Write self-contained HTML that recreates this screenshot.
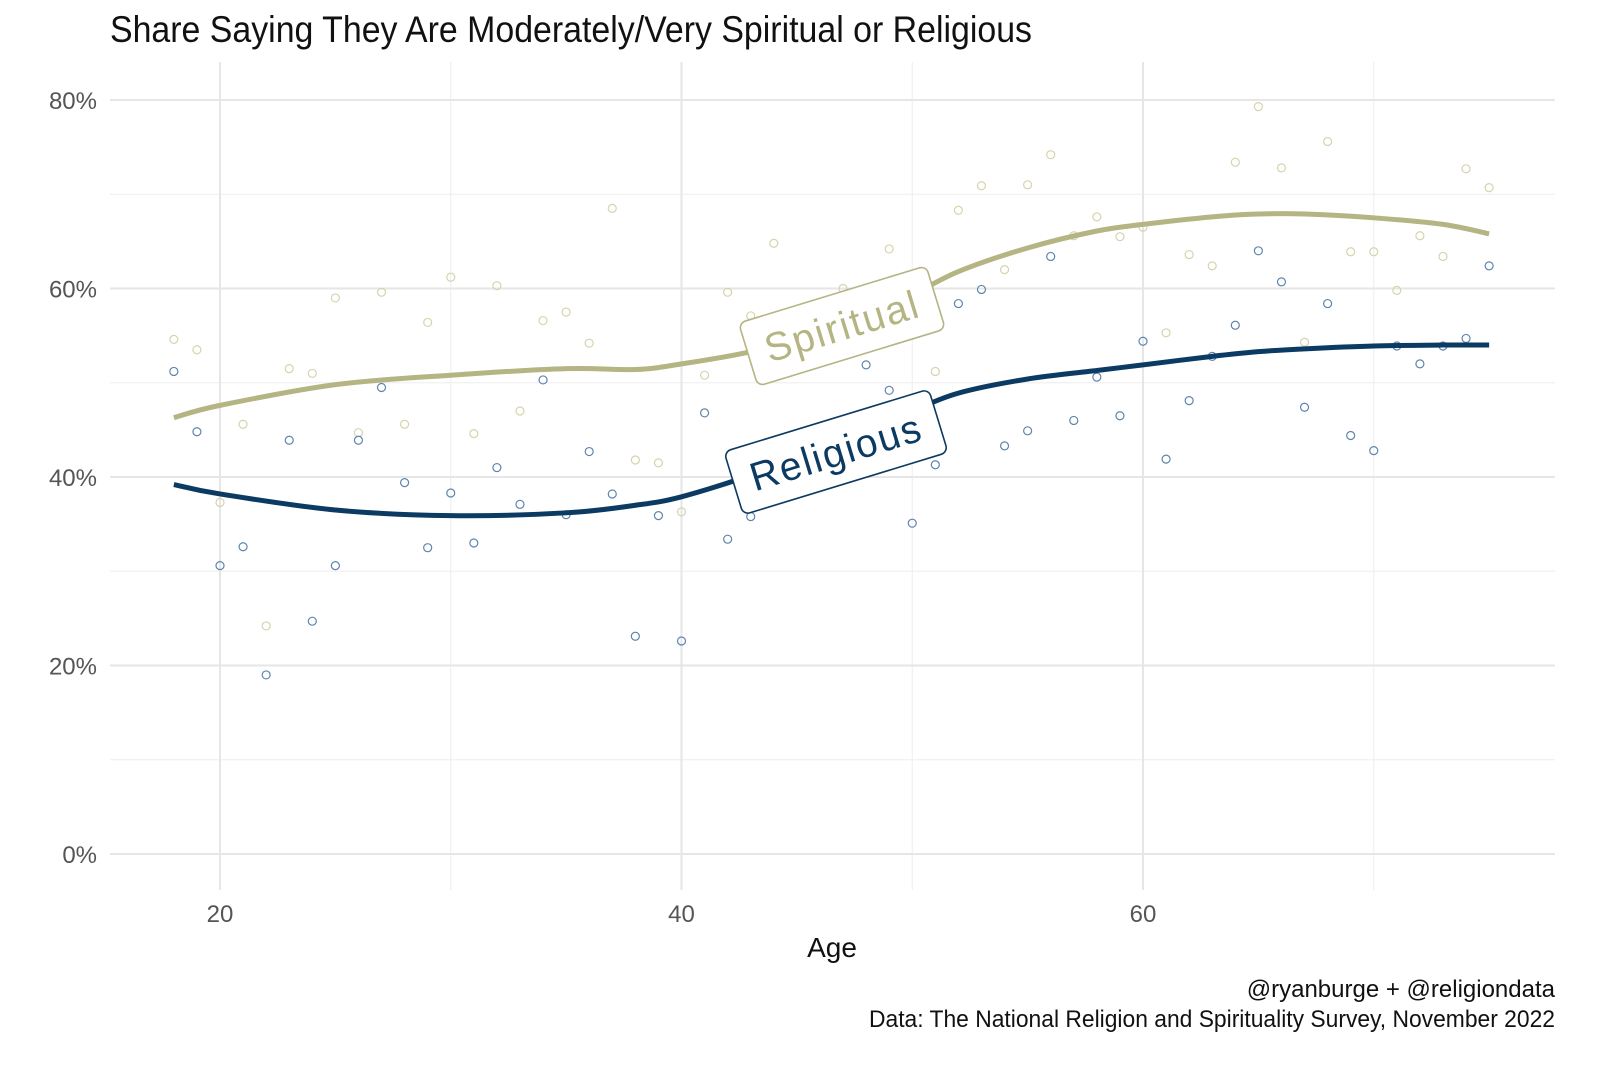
<!DOCTYPE html>
<html><head><meta charset="utf-8">
<style>
html,body{margin:0;padding:0;background:#fff;}
svg text{font-family:"Liberation Sans Narrow","Liberation Sans",sans-serif;}
</style></head>
<body>
<svg id="chart" width="1600" height="1066" viewBox="0 0 1600 1066" xmlns="http://www.w3.org/2000/svg">
<g id="grid"></g>
<g id="axes"></g>
<g id="marks"></g>
<text x="110" y="42" font-size="37" fill="#111" textLength="922" lengthAdjust="spacingAndGlyphs">Share Saying They Are Moderately/Very Spiritual or Religious</text>
<text x="832" y="957" font-size="28" fill="#111" text-anchor="middle">Age</text>
<text x="1555" y="997" font-size="24" fill="#111" text-anchor="end">@ryanburge + @religiondata</text>
<text x="1555" y="1027" font-size="24" fill="#111" text-anchor="end" textLength="686" lengthAdjust="spacingAndGlyphs">Data: The National Religion and Spirituality Survey, November 2022</text>
</svg>
<script>
const ages = [18,19,20,21,22,23,24,25,26,27,28,29,30,31,32,33,34,35,36,37,38,39,40,41,42,43,44,45,46,47,48,49,50,51,52,53,54,55,56,57,58,59,60,61,62,63,64,65,66,67,68,69,70,71,72,73,74,75];
const spiritualPts = [54.6,53.5,37.3,45.6,24.2,51.5,51.0,59.0,44.7,59.6,45.6,56.4,61.2,44.6,60.3,47.0,56.6,57.5,54.2,68.5,41.8,41.5,36.3,50.8,59.6,57.1,64.8,56,53,60,57,64.2,58,51.2,68.3,70.9,62.0,71.0,74.2,65.6,67.6,65.5,66.5,55.3,63.6,62.4,73.4,79.3,72.8,54.3,75.6,63.9,63.9,59.8,65.6,63.4,72.7,70.7];
const religiousPts = [51.2,44.8,30.6,32.6,19.0,43.9,24.7,30.6,43.9,49.5,39.4,32.5,38.3,33.0,41.0,37.1,50.3,36.0,42.7,38.2,23.1,35.9,22.6,46.8,33.4,35.8,40,43,45,42,51.9,49.2,35.1,41.3,58.4,59.9,43.3,44.9,63.4,46.0,50.6,46.5,54.4,41.9,48.1,52.8,56.1,64.0,60.7,47.4,58.4,44.4,42.8,53.9,52.0,53.9,54.7,62.4];
const smoothAges = [18,20,25,30,35,38,40,43,45,48,50,52,55,58,60,63,65,67,70,73,75];
const spiritualSmooth = [46.3,47.6,49.8,50.8,51.5,51.4,52.0,53.3,54.8,57.0,59.3,61.8,64.3,66.1,66.8,67.6,67.9,67.9,67.5,66.8,65.8];
const religiousSmooth = [39.2,38.2,36.5,35.9,36.2,37.0,37.9,40.2,42.3,45.0,47.0,48.9,50.4,51.3,51.9,52.8,53.3,53.6,53.9,54.0,54.0];
const xTicks = [20,40,60];
const xMinor = [30,50,70];
const yTicks = [0,20,40,60,80];
const yMinor = [10,30,50,70];

const NS="http://www.w3.org/2000/svg";
function X(a){return 220+(a-20)*23.075;}
function Y(v){return 854-v*9.425;}
function mk(tag,attrs,parent){const e=document.createElementNS(NS,tag);for(const k in attrs)e.setAttribute(k,attrs[k]);parent.appendChild(e);return e;}
const grid=document.getElementById('grid'),axes=document.getElementById('axes'),marks=document.getElementById('marks');
yMinor.forEach(v=>{const l=mk('line',{x1:110,x2:1555,y1:Y(v),y2:Y(v),stroke:'#f0f0f0','stroke-width':1.2},grid);

});
xMinor.forEach(v=>{const l=mk('line',{x1:X(v),x2:X(v),y1:62,y2:890,stroke:'#f0f0f0','stroke-width':1.2},grid);

});
yTicks.forEach(v=>{const l=mk('line',{x1:110,x2:1555,y1:Y(v),y2:Y(v),stroke:'#e6e6e6','stroke-width':2},grid);


const t=mk('text',{x:97,y:Y(v)+9,'font-size':24,fill:'#555','text-anchor':'end'},axes);t.textContent=v+'%';

});
xTicks.forEach(v=>{const l=mk('line',{x1:X(v),x2:X(v),y1:62,y2:890,stroke:'#e6e6e6','stroke-width':2},grid);


const t=mk('text',{x:X(v),y:922,'font-size':24,fill:'#555','text-anchor':'middle'},axes);t.textContent=v;

});
function pts(arr,color,name){ages.forEach((a,i)=>{const c=mk('circle',{cx:X(a),cy:Y(arr[i]),r:4,fill:'none',stroke:color,'stroke-width':1.2},marks);

});}
pts(spiritualPts,'#d6d3ad','spiritual-point');
pts(religiousPts,'#5f84ad','religious-point');
function pathD(xs,ys){const P=xs.map((a,i)=>[X(a),Y(ys[i])]);let d='M'+P[0][0]+','+P[0][1];
for(let i=0;i<P.length-1;i++){const p0=P[i-1]||P[i],p1=P[i],p2=P[i+1],p3=P[i+2]||P[i+1];
d+=' C'+(p1[0]+(p2[0]-p0[0])/6)+','+(p1[1]+(p2[1]-p0[1])/6)+' '+(p2[0]-(p3[0]-p1[0])/6)+','+(p2[1]-(p3[1]-p1[1])/6)+' '+p2[0]+','+p2[1];}return d;}
const ls=mk('path',{d:pathD(smoothAges,spiritualSmooth),fill:'none',stroke:'#b5b483','stroke-width':5},marks);


const lr=mk('path',{d:pathD(smoothAges,religiousSmooth),fill:'none',stroke:'#0b3a62','stroke-width':5},marks);


function label(cx,cy,w,h,txt,color,name){const g=mk('g',{transform:'translate('+cx+','+cy+') rotate(-17)'},marks);


mk('rect',{x:-w/2,y:-h/2,width:w,height:h,rx:7,fill:'#fff',stroke:color,'stroke-width':1.6},g);
const t=mk('text',{x:0,y:14,'font-size':40,fill:color,'text-anchor':'middle','letter-spacing':2,textLength:w-36,lengthAdjust:'spacingAndGlyphs'},g);t.textContent=txt;}
label(842,326,196,66,'Spiritual','#b5b483','spiritual-label');
label(836,452,214,66,'Religious','#0b3a62','religious-label');
</script>
</body></html>
